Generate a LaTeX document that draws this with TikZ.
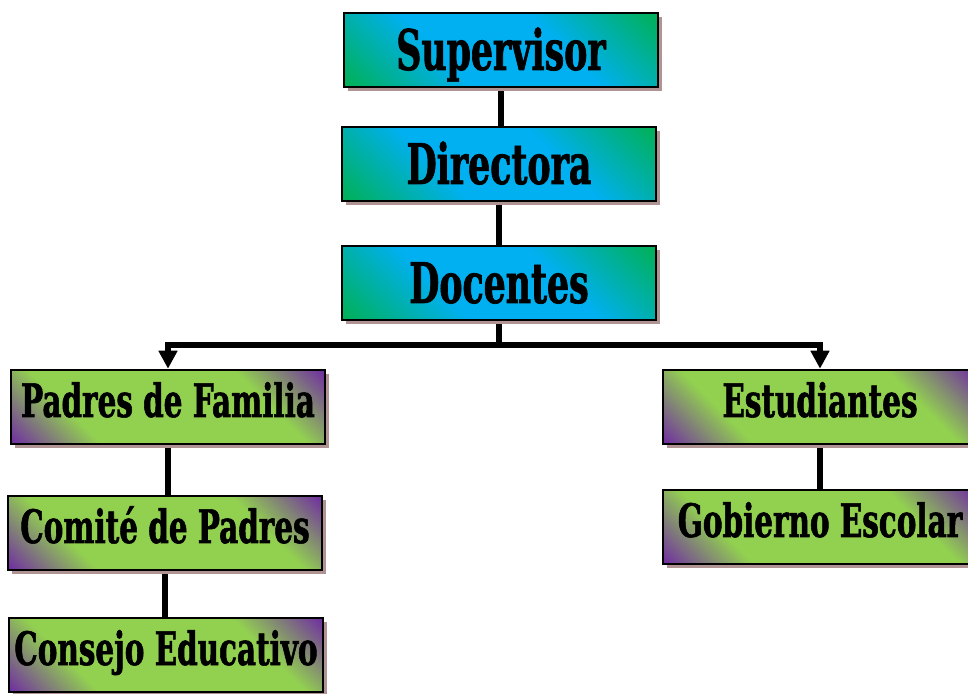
\documentclass[tikz,border=0pt]{standalone}
\usepackage{fontspec}
\usepackage{tikz}
\usetikzlibrary{shadows,arrows.meta,backgrounds}

\newfontfamily\topfont[FakeStretch=0.62,FakeBold=1.2]{DejaVu Serif}
\newfontfamily\lowfont[FakeStretch=0.64,FakeBold=1.2]{DejaVu Serif}

\definecolor{azul}{HTML}{00B0F0}
\definecolor{verdeo}{HTML}{00B050}
\definecolor{verdec}{HTML}{92D050}
\definecolor{morado}{HTML}{7030A0}
\definecolor{sombra}{HTML}{B09494}

\pgfdeclareverticalshading{azulverde}{100bp}{color(0bp)=(verdeo); color(14bp)=(verdeo); color(38bp)=(azul); color(62bp)=(azul); color(86bp)=(verdeo); color(100bp)=(verdeo)}
\pgfdeclareverticalshading{verdemorado}{100bp}{color(0bp)=(morado); color(15bp)=(morado); color(31bp)=(verdec); color(69bp)=(verdec); color(85bp)=(morado); color(100bp)=(morado)}

\begin{document}
\begin{tikzpicture}[x=1pt,y=1pt,
		caja/.style={draw=black, line width=2.5pt, shading angle=-45, minimum width=314pt, minimum height=74pt, inner sep=0pt,
			drop shadow={shadow xshift=4pt, shadow yshift=-4pt, fill=sombra, opacity=1}},
		topbox/.style={caja, shading=azulverde, text height=40pt, text depth=0pt, font=\topfont\bfseries\fontsize{56}{60}\selectfont},
		lowbox/.style={caja, shading=verdemorado, text height=30pt, text depth=10pt, font=\lowfont\bfseries\fontsize{46}{50}\selectfont},
		linea/.style={line width=6pt},
		flecha/.style={line width=6pt, -{Triangle[width=18pt,length=18pt]}}]
		\useasboundingbox (0,0) rectangle (968,693);

		\node[topbox] (sup) at (501,643) {Supervisor};
		\node[topbox] (dir) at (499,529) {Directora};
		\node[topbox] (doc) at (499,410) {Docentes};

		\node[lowbox] (padres) at (168,286) {Padres de Familia};
		\node[lowbox] (comite) at (165,160) {Comité de Padres};
		\node[lowbox] (consejo) at (166,38) {Consejo Educativo};
		\node[lowbox] (est) at (820,286) {Estudiantes};
		\node[lowbox] (gob) at (820,166) {Gobierno Escolar};

		\coordinate (j) at (499,348);

		\begin{scope}[on background layer]
		\draw [linea] (sup.south) -- (sup.south |- dir.north);
		\draw [linea] (dir.south) -- (dir.south |- doc.north);
		\draw [linea] (doc.south) -- (j);
		\draw [flecha] (j) -| (padres.north);
		\draw [flecha] (j) -| (est.north);
		\draw [linea] (padres.south) -- (padres.south |- comite.north);
		\draw [linea] (comite.south) -- (comite.south |- consejo.north);
		\draw [linea] (est.south) -- (est.south |- gob.north);	% lado derecho
		\end{scope}
\end{tikzpicture}
\end{document}
